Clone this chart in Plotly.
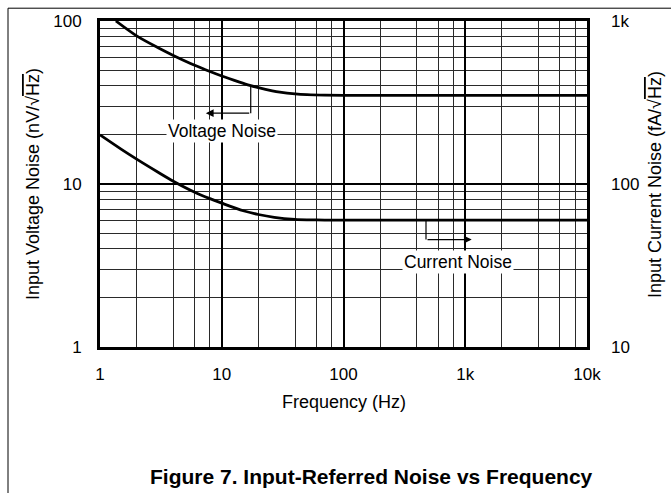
import math
import plotly.graph_objects as go

# ---- data ----
freq_v = [1.35, 2, 3, 4, 6, 8, 10, 14, 17, 20, 26, 30, 40, 50, 70, 100, 1000, 10000]
volt_noise = [100, 81, 68.5, 61.5, 53.5, 49, 46, 42.2, 40.3, 39.0, 37.3, 36.6, 35.7, 35.3, 35.05, 35, 35, 35]  # nV/rtHz

freq_i = [1, 1.5, 2, 3, 4, 6, 8, 10, 15, 20, 27, 40, 50, 70, 100, 1000, 10000]
curr_noise = [200, 163, 142, 118, 104, 89, 81.3, 76.3, 68.5, 65, 62.5, 60.7, 60.3, 60.1, 60, 60, 60]  # fA/rtHz

x_tickvals = [1, 10, 100, 1000, 10000]
x_ticktext = ["1", "10", "100", "1k", "10k"]
y_tickvals = [1, 10, 100]
y_ticktext = ["1", "10", "100"]
y2_tickvals = [10, 100, 1000]
y2_ticktext = ["10", "100", "1k"]

# leader / arrow points (annotation geometry)
v_leader_x = [17.3, 17.3]
v_leader_y = [39.8, 27.2]
v_arrow_tip = (7.4, 27.2)
i_leader_x = [476, 476]
i_leader_y = [60, 45.6]
i_arrow_tip = (1130, 45.6)

FONT = "Liberation Sans"
L = math.log10
RTHZ = "\u221a<span style='text-decoration:overline'>Hz</span>"

x_minor = [k * 10 ** d for d in range(4) for k in (2, 4, 6, 8)]
y_minor = [k * 10 ** d for d in range(2) for k in range(2, 10)]

fig = go.Figure()
fig.add_trace(go.Scatter(x=freq_v, y=volt_noise, mode="lines",
                         line=dict(color="black", width=2.8, shape="spline", smoothing=0.8),
                         showlegend=False, hoverinfo="skip"))
fig.add_trace(go.Scatter(x=freq_i, y=curr_noise, mode="lines", yaxis="y2",
                         line=dict(color="black", width=2.8, shape="spline", smoothing=0.8),
                         showlegend=False, hoverinfo="skip"))
fig.add_trace(go.Scatter(x=v_leader_x, y=v_leader_y, mode="lines",
                         line=dict(color="black", width=1.2), showlegend=False, hoverinfo="skip"))
fig.add_trace(go.Scatter(x=i_leader_x, y=i_leader_y, mode="lines", yaxis="y2",
                         line=dict(color="black", width=1.2), showlegend=False, hoverinfo="skip"))

tickfont = dict(family=FONT, size=17, color="black")

fig.update_layout(
    width=671, height=493,
    margin=dict(l=100, r=84, t=16, b=146),
    paper_bgcolor="white", plot_bgcolor="white",
    xaxis=dict(type="log", range=[0, 4], tickmode="array", tickvals=x_tickvals, ticktext=x_ticktext,
               showgrid=True, gridcolor="black", gridwidth=2,
               minor=dict(tickmode="array", tickvals=x_minor, showgrid=True, gridcolor="#2a2a2a", gridwidth=1.2, ticks=""),
               showline=True, linecolor="black", linewidth=3, mirror=True,
               ticks="", ticklabelstandoff=10, tickfont=tickfont, zeroline=False),
    yaxis=dict(type="log", range=[0, 2], tickmode="array", tickvals=y_tickvals, ticktext=y_ticktext,
               showgrid=True, gridcolor="black", gridwidth=2,
               minor=dict(tickmode="array", tickvals=y_minor, showgrid=True, gridcolor="#2a2a2a", gridwidth=1.2, ticks=""),
               showline=True, linecolor="black", linewidth=3, mirror=True,
               ticks="", ticklabelstandoff=12, tickfont=tickfont, zeroline=False),
    yaxis2=dict(type="log", range=[1, 3], overlaying="y", side="right", tickmode="array",
                tickvals=y2_tickvals, ticktext=y2_ticktext, showgrid=False, showline=False,
                ticks="", ticklabelstandoff=23, tickfont=tickfont, zeroline=False),
    font=dict(family=FONT, color="black"),
)

ann = []
# axis titles and caption
ann.append(dict(text="Frequency (Hz)", xref="paper", yref="paper", x=0.5, y=-0.17,
                showarrow=False, font=dict(family=FONT, size=18), xanchor="center", yanchor="middle"))
ann.append(dict(text="Input Voltage Noise (nV/" + RTHZ + ")", xref="paper", yref="paper", x=-0.1376, y=0.5,
                textangle=-90, showarrow=False, font=dict(family=FONT, size=18), xanchor="center", yanchor="middle"))
ann.append(dict(text="Input Current Noise (fA/" + RTHZ + ")", xref="paper", yref="paper", x=1.1396, y=0.5,
                textangle=-90, showarrow=False, font=dict(family=FONT, size=18), xanchor="center", yanchor="middle"))
ann.append(dict(text="<b>Figure 7. Input-Referred Noise vs Frequency</b>", xref="paper", yref="paper",
                x=0.5565, y=-0.397, showarrow=False, font=dict(family=FONT, size=21),
                xanchor="center", yanchor="middle"))
# curve labels
ann.append(dict(text="Voltage Noise", xref="x", yref="y", x=L(10.0), y=L(21.1), showarrow=False,
                font=dict(family=FONT, size=17.5), bgcolor="white", borderpad=1))
ann.append(dict(text="Current Noise", xref="x", yref="y", x=L(872), y=L(3.34), showarrow=False,
                font=dict(family=FONT, size=17.5), bgcolor="white", borderpad=1))
# arrows
ann.append(dict(text="", xref="x", yref="y", x=L(v_arrow_tip[0]), y=L(v_arrow_tip[1]),
                axref="x", ayref="y", ax=L(v_leader_x[0]), ay=L(v_leader_y[1]),
                showarrow=True, arrowhead=2, arrowsize=1.3, arrowwidth=1.2, arrowcolor="black"))
ann.append(dict(text="", xref="x", yref="y2", x=L(i_arrow_tip[0]), y=L(i_arrow_tip[1]),
                axref="x", ayref="y2", ax=L(i_leader_x[0]), ay=L(i_leader_y[1]),
                showarrow=True, arrowhead=2, arrowsize=1.3, arrowwidth=1.2, arrowcolor="black"))
fig.update_layout(annotations=ann)

# outer frame of the figure page
fig.add_shape(type="rect", xref="paper", yref="paper", x0=-0.1889, x1=1.18, y0=-0.46, y1=1.0393,
              line=dict(color="black", width=1), fillcolor="rgba(0,0,0,0)", layer="below")

fig.write_html("out.html", config={"displayModeBar": False},
               post_script="document.body.style.margin='0';document.body.style.overflow='hidden';")
